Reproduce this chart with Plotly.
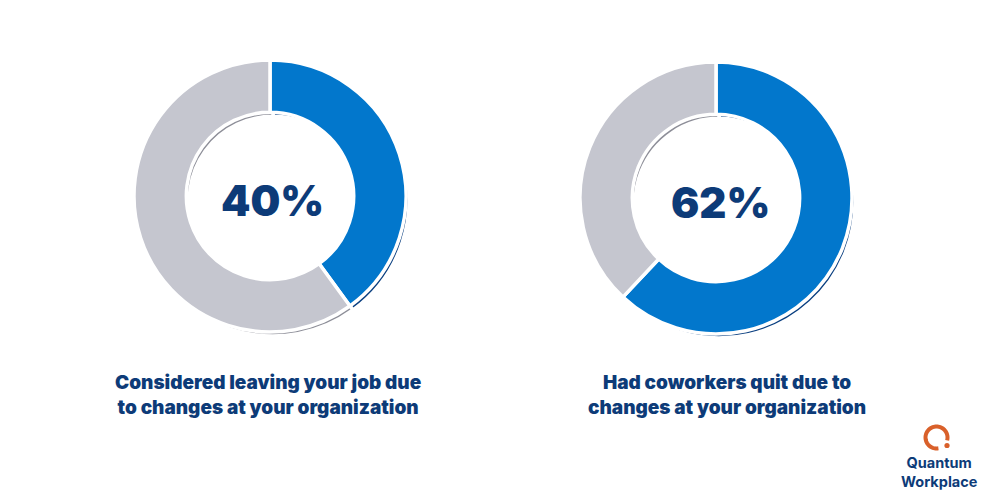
import numpy as np
import plotly.graph_objects as go

# ---- data ----
labels = ["Yes", "No"]
left_values = [40, 60]
right_values = [62, 38]
center_labels = ["40%", "62%"]
captions = [
    "Considered leaving your job due<br>to changes at your organization",
    "Had coworkers quit due to<br>changes at your organization",
]
brand_text = "Quantum<br>Workplace"

# ---- styling ----
W, H = 1001, 501
BLUE = "#0277cc"
GRAY = "#c5c6cf"
BLUE_SH = "#0a3f80"
GRAY_SH = "#8d8e98"
NAVY = "#0d3b78"
ORANGE = "#d9602a"
FONT = "Inter"


def dom(cx, cy, r):
    return dict(x=[(cx - r) / W, (cx + r) / W], y=[1 - (cy + r) / H, 1 - (cy - r) / H])


centers = [(270, 196), (716, 198)]
R = 136
SH_DX, SH_DY = 3, 4
HOLE = 0.615

fig = go.Figure()
for (cx, cy), vals in zip(centers, [left_values, right_values]):
    # shadow layer
    fig.add_trace(go.Pie(
        labels=labels, values=vals, sort=False, direction="clockwise", rotation=0,
        hole=HOLE, textinfo="none", hoverinfo="skip", showlegend=False,
        marker=dict(colors=[BLUE_SH, GRAY_SH], line=dict(color="white", width=3.5)),
        domain=dom(cx + SH_DX, cy + SH_DY, R),
    ))
    # main layer
    fig.add_trace(go.Pie(
        labels=labels, values=vals, sort=False, direction="clockwise", rotation=0,
        hole=HOLE, textinfo="none", showlegend=False,
        marker=dict(colors=[BLUE, GRAY], line=dict(color="white", width=3.5)),
        domain=dom(cx, cy, R),
    ))

annotations = []
text_pos = [(272, 200), (720, 202)]
for (tx, ty), t in zip(text_pos, center_labels):
    annotations.append(dict(
        x=tx / W, y=1 - ty / H, xref="paper", yref="paper", text=t, showarrow=False,
        font=dict(family=FONT, size=42, color=NAVY, weight=900),
        xanchor="center", yanchor="middle",
    ))

cap_pos = [(268, 395), (727, 395)]
for (tx, ty), t in zip(cap_pos, captions):
    annotations.append(dict(
        x=tx / W, y=1 - ty / H, xref="paper", yref="paper", text=t, showarrow=False,
        font=dict(family=FONT, size=19, color=NAVY, weight=900),
        xanchor="center", yanchor="middle", align="center",
    ))

# brand text
annotations.append(dict(
    x=939 / W, y=1 - 472 / H, xref="paper", yref="paper", text=brand_text,
    showarrow=False, font=dict(family=FONT, size=14.5, color=NAVY, weight=700),
    xanchor="center", yanchor="middle", align="center",
))

# brand icon: open ring + dot
icx, icy, ir = 936.5, 437.5, 11
ang = np.radians(np.linspace(80, 375, 60))
px = icx + ir * np.cos(ang)
py = icy + ir * np.sin(ang)
path = "M " + " L ".join(f"{x / W:.5f},{1 - y / H:.5f}" for x, y in zip(px, py))
shapes = [
    dict(type="path", path=path, xref="paper", yref="paper",
         line=dict(color=ORANGE, width=4)),
    dict(type="circle", xref="paper", yref="paper",
         x0=(947 - 2.6) / W, x1=(947 + 2.6) / W,
         y0=1 - (445.5 + 2.6) / H, y1=1 - (445.5 - 2.6) / H,
         fillcolor=ORANGE, line=dict(width=0)),
]

fig.update_layout(
    width=W, height=H, margin=dict(l=0, r=0, t=0, b=0),
    paper_bgcolor="white", plot_bgcolor="white",
    annotations=annotations, shapes=shapes,
)
fig.write_html("out.html", config={"displayModeBar": False},
               post_script="document.body.style.margin='0';")
